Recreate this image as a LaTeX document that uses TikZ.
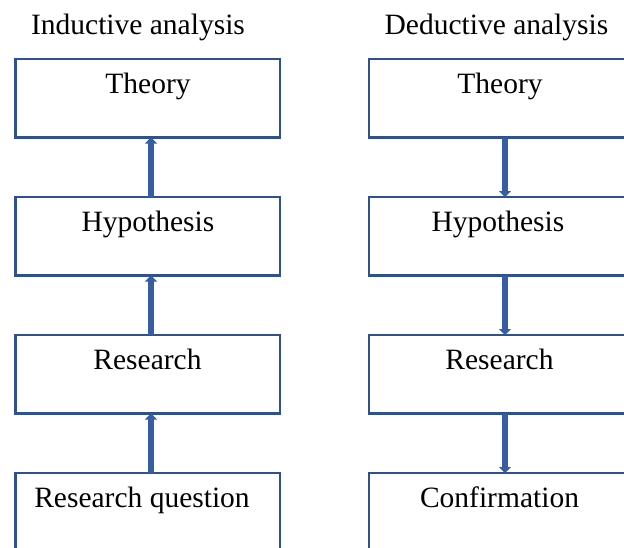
\documentclass[tikz,border=0pt]{standalone}
\usepackage{fontspec}
\setmainfont{Liberation Serif}
\usetikzlibrary{arrows.meta}
\definecolor{boxblue}{RGB}{47,82,143}
\definecolor{arrblue}{RGB}{55,93,163}
\begin{document}
\begin{tikzpicture}[x=1pt,y=-1pt,
  box/.style={draw=boxblue, line width=2.4pt, minimum width=264.5pt, minimum height=78.5pt, inner sep=0pt, outer sep=0pt},
  txt/.style={font=\fontsize{29.5}{33}\selectfont, inner sep=0pt, anchor=base},
  arr/.style={draw=arrblue, line width=5.5pt, -{Triangle[length=6pt,width=12pt]}}]
\clip (0,0) rectangle (624,547);
% titles
\node[txt] (tind) at (138,34) {Inductive analysis};
\node[txt] (tded) at (496.5,34) {Deductive analysis};
% left column
\node[box] (l1) at (147.75,98.25) {};
\node[box] (l2) at (147.75,236.25) {};
\node[box] (l3) at (147.75,374.25) {};
\node[box] (l4) at (147.75,512.25) {};
\node[txt] (l1t) at (148,93) {Theory};
\node[txt] (l2t) at (148,231) {Hypothesis};
\node[txt] (l3t) at (147.5,369) {Research};
\node[txt] (l4t) at (142,507) {Research question};
% right column
\node[box] (r1) at (501.5,98.25) {};
\node[box] (r2) at (501.5,236.25) {};
\node[box] (r3) at (501.5,374.25) {};
\node[box] (r4) at (501.5,512.25) {};
\node[txt] (r1t) at (500,93) {Theory};
\node[txt] (r2t) at (498,231) {Hypothesis};
\node[txt] (r3t) at (499.5,369) {Research};
\node[txt] (r4t) at (499.5,507) {Confirmation};
% arrows
\draw[arr] ([xshift=3.25pt]l4.north) -- ([xshift=3.25pt]l3.south);
\draw[arr] ([xshift=3.25pt]l3.north) -- ([xshift=3.25pt]l2.south);
\draw[arr] ([xshift=3.25pt]l2.north) -- ([xshift=3.25pt]l1.south);
\draw[arr] ([xshift=3.5pt]r1.south) -- ([xshift=3.5pt]r2.north);
\draw[arr] ([xshift=3.5pt]r2.south) -- ([xshift=3.5pt]r3.north);
\draw[arr] ([xshift=3.5pt]r3.south) -- ([xshift=3.5pt]r4.north);
\end{tikzpicture}
\end{document}
